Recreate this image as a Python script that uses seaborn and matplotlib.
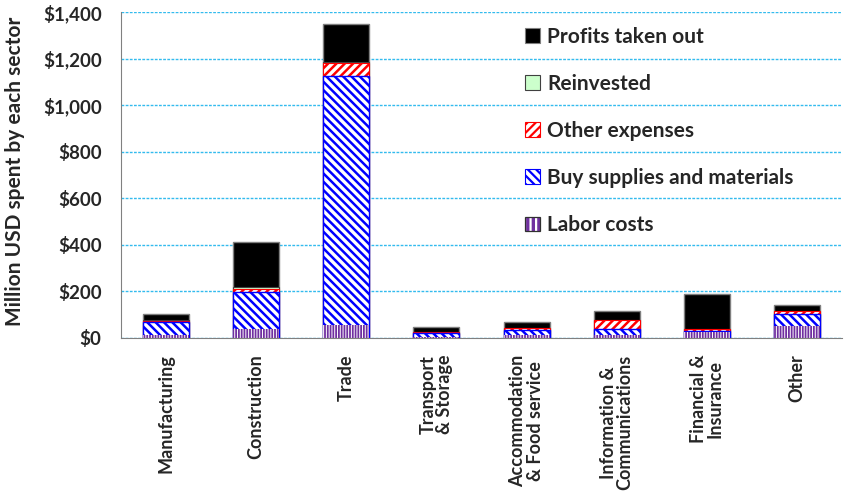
import matplotlib.pyplot as plt
import pandas as pd
import seaborn as sns
from matplotlib.patches import Patch
from matplotlib.legend_handler import HandlerTuple
from matplotlib.ticker import FuncFormatter, FixedLocator

# values in million USD
sectors = ["Manufacturing", "Construction", "Trade", "Transport\n& Storage",
           "Accommodation\n& Food service", "Information &\nCommunications",
           "Financial &\nInsurance", "Other"]
labor = [13, 37, 56, 3, 13, 13, 27, 53]
supplies = [57, 162, 1069, 19, 23, 24, 5, 51]
other_exp = [5, 10, 55, 2, 5, 40, 5, 11]
reinvested = [3, 10, 5, 1, 2, 2, 3, 2]
profits = [25, 194, 162, 21, 27, 38, 147, 25]

series_names = ["Labor costs", "Buy supplies and materials", "Other expenses",
                "Reinvested", "Profits taken out"]


def main():
    df = pd.DataFrame({"sector": sectors, "Labor costs": labor,
                       "Buy supplies and materials": supplies,
                       "Other expenses": other_exp, "Reinvested": reinvested,
                       "Profits taken out": profits})
    # cumulative tops, drawn from the top layer down so each covers the next
    cum = df[series_names].cumsum(axis=1)
    cum["sector"] = df["sector"]

    sns.set_style("white")
    plt.rcParams["font.family"] = ["Lato", "DejaVu Sans"]
    plt.rcParams["font.weight"] = "bold"
    plt.rcParams["hatch.linewidth"] = 1.6

    styles = {
        "Profits taken out": dict(face="black", edge="#7f7f7f", hatch=None, lw=1.0, hlw=1.6),
        "Reinvested": dict(face="#CCFFCC", edge="#404040", hatch=None, lw=0.8, hlw=1.6),
        "Other expenses": dict(face="white", edge="#FF0000", hatch="////", lw=0.8, hlw=1.8),
        "Buy supplies and materials": dict(face="white", edge="#0000FF", hatch="\\\\\\\\", lw=1.0, hlw=1.8),
        "Labor costs": dict(face="#7030A0", edge="white", hatch="||||||", lw=0, hlw=0.7),
    }

    fig = plt.figure(figsize=(8.44, 4.95), dpi=100)
    ax = fig.add_axes([0.1434, 0.3172, 0.8542, 0.6586])

    for name in reversed(series_names):
        st = styles[name]
        n0 = len(ax.patches)
        sns.barplot(data=cum, x="sector", y=name, color=st["face"], saturation=1,
                    width=0.51, ax=ax, zorder=3)
        for p in ax.patches[n0:]:
            p.set_facecolor(st["face"])
            p.set_edgecolor(st["edge"])
            p.set_linewidth(st["lw"])
            if st["hatch"]:
                p.set_hatch(st["hatch"])
                if hasattr(p, "set_hatch_linewidth"):
                    p.set_hatch_linewidth(st["hlw"])

    ax.set_ylim(0, 1400)
    ax.set_xlim(-0.5, len(sectors) - 0.5)
    ax.set_yticks(range(0, 1401, 200))
    ax.yaxis.set_major_formatter(FuncFormatter(lambda v, _: f"${v:,.0f}"))
    ax.grid(axis="y", color="#33BBEE", linestyle=(0, (2, 1)), linewidth=1, zorder=0)
    ax.set_axisbelow(True)

    ax.set_xlabel("")
    ax.set_ylabel("Million USD spent by each sector", fontsize=15, fontweight="bold")
    ax.yaxis.set_label_coords(-0.133, 0.51)
    ax.set_xticks(range(len(sectors)))
    ax.set_xticklabels(sectors, rotation=90, fontsize=13, fontweight="bold",
                       multialignment="center", linespacing=1.0)
    ax.xaxis.set_minor_locator(FixedLocator([i - 0.5 for i in range(len(sectors) + 1)]))
    ax.tick_params(axis="x", which="major", length=0, pad=12)
    ax.tick_params(axis="x", which="minor", length=6, color="#808080", direction="out")
    ax.tick_params(axis="y", length=6, color="#808080", direction="out", labelsize=13.5, pad=8)
    for lbl in ax.get_yticklabels():
        lbl.set_fontweight("bold")

    for s in ["top", "right"]:
        ax.spines[s].set_visible(False)
    for s in ["left", "bottom"]:
        ax.spines[s].set_color("#808080")
        ax.spines[s].set_zorder(4)

    handles = []
    for name in reversed(series_names):
        st = styles[name]
        if name == "Labor costs":
            inner = Patch(facecolor=st["face"], edgecolor="white", hatch="|||", linewidth=0)
            if hasattr(inner, "set_hatch_linewidth"):
                inner.set_hatch_linewidth(1.0)
            frame = Patch(facecolor="none", edgecolor="#303030", linewidth=0.9)
            handles.append((inner, frame))
        else:
            h = Patch(facecolor=st["face"], edgecolor=st["edge"], hatch=st["hatch"],
                      linewidth=0.8)
            if st["hatch"] and hasattr(h, "set_hatch_linewidth"):
                h.set_hatch_linewidth(1.4)
            handles.append(h)
    labels = list(reversed(series_names))
    leg = ax.legend(handles=handles, labels=labels, loc="upper left",
                    bbox_to_anchor=(0.535, 1.012), frameon=False,
                    prop={"size": 15, "weight": "bold"},
                    handlelength=0.7, handleheight=0.7, handletextpad=0.35,
                    labelspacing=1.3, handler_map={tuple: HandlerTuple(ndivide=1, pad=0)})
    leg.set_zorder(5)

    plt.savefig("out.png", dpi=100)


if __name__ == "__main__":
    main()
